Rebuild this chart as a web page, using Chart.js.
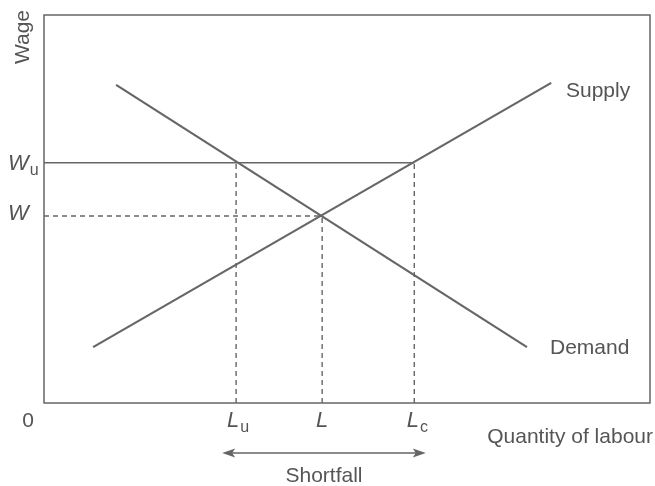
<!DOCTYPE html>
<html>
<head>
<meta charset="utf-8">
<script src="https://cdn.jsdelivr.net/npm/chart.js@4"></script>
<style>
  body { margin: 0; background: #fff; }
</style>
</head>
<body>
<canvas id="labourChart" width="655" height="486"></canvas>
<script>
// values on a 0-100 scale for both axes
const supplyX = [8.1, 83.7];
const supplyY = [14.4, 82.5];
const demandX = [11.9, 79.7];
const demandY = [82.0, 14.4];

const wageLevels = { Wu: 61.9, W: 48.2 };
const quantities = { Lu: 31.7, L: 45.9, Lc: 61.1 };
const shortfallRange = [29.4, 63.0];

const lineColor = "#666";
const textColor = "#555";
const fontFamily = "'Liberation Sans', Arial, sans-serif";

function pts(xs, ys) {
  return xs.map((x, i) => ({ x: x, y: ys[i] }));
}

const datasets = [
  { data: pts(supplyX, supplyY), borderWidth: 2.2 },
  { data: pts(demandX, demandY), borderWidth: 2.2 },
  { data: pts([0, quantities.Lc], [wageLevels.Wu, wageLevels.Wu]), borderWidth: 1.5 },
  { data: pts([0, quantities.L], [wageLevels.W, wageLevels.W]), borderWidth: 1.4, borderDash: [5, 4] },
  { data: pts([quantities.Lu, quantities.Lu], [0, wageLevels.Wu]), borderWidth: 1.4, borderDash: [5, 4] },
  { data: pts([quantities.L, quantities.L], [0, wageLevels.W]), borderWidth: 1.4, borderDash: [5, 4] },
  { data: pts([quantities.Lc, quantities.Lc], [0, wageLevels.Wu]), borderWidth: 1.4, borderDash: [5, 4] }
].map(d => Object.assign({
  showLine: true,
  borderColor: lineColor,
  pointRadius: 0,
  fill: false
}, d));

// draws the frame, labels and the shortfall arrow
const annotations = {
  id: "annotations",
  afterDraw(chart) {
    const ctx = chart.ctx;
    const x = chart.scales.x, y = chart.scales.y;
    const a = chart.chartArea;

    ctx.save();
    ctx.strokeStyle = lineColor;
    ctx.lineWidth = 1.5;
    ctx.strokeRect(a.left, a.top, a.right - a.left, a.bottom - a.top);

    ctx.fillStyle = textColor;
    ctx.textBaseline = "middle";

    function sub(main, s, cx, cy, align) {
      ctx.font = "italic 22px " + fontFamily;
      const w1 = ctx.measureText(main).width;
      ctx.font = "16px " + fontFamily;
      const w2 = s ? ctx.measureText(s).width + 1 : 0;
      let left = align === "center" ? cx - (w1 + w2) / 2 : cx;
      ctx.textAlign = "left";
      ctx.font = "italic 22px " + fontFamily;
      ctx.fillText(main, left, cy);
      if (s) {
        ctx.font = "16px " + fontFamily;
        ctx.fillText(s, left + w1 + 1, cy + 7);
      }
    }

    // y-axis labels
    sub("W", "u", 8, y.getPixelForValue(wageLevels.Wu) + 1, "left");
    sub("W", "", 8, y.getPixelForValue(wageLevels.W) - 2, "left");

    // x-axis labels
    const ly = a.bottom + 18;
    sub("L", "u", x.getPixelForValue(quantities.Lu) + 2, ly, "center");
    sub("L", "", x.getPixelForValue(quantities.L), ly, "center");
    sub("L", "c", x.getPixelForValue(quantities.Lc) + 3, ly, "center");

    ctx.font = "21px " + fontFamily;
    ctx.textAlign = "center";
    ctx.fillText("0", 28, ly);

    ctx.textAlign = "left";
    ctx.fillText("Supply", 566, 91);
    ctx.fillText("Demand", 550, 348);
    ctx.textAlign = "right";
    ctx.fillText("Quantity of labour", 653, 437);

    ctx.save();
    ctx.translate(23, 37);
    ctx.rotate(-Math.PI / 2);
    ctx.textAlign = "center";
    ctx.fillText("Wage", 0, 0);
    ctx.restore();

    // shortfall arrow
    const x0 = x.getPixelForValue(shortfallRange[0]);
    const x1 = x.getPixelForValue(shortfallRange[1]);
    const ay = 453;
    ctx.strokeStyle = lineColor;
    ctx.lineWidth = 1.5;
    ctx.beginPath();
    ctx.moveTo(x0 + 4, ay);
    ctx.lineTo(x1 - 4, ay);
    ctx.stroke();
    ctx.fillStyle = lineColor;
    ctx.beginPath();
    ctx.moveTo(x0, ay);
    ctx.lineTo(x0 + 13, ay - 4.5);
    ctx.lineTo(x0 + 10, ay);
    ctx.lineTo(x0 + 13, ay + 4.5);
    ctx.closePath();
    ctx.fill();
    ctx.beginPath();
    ctx.moveTo(x1, ay);
    ctx.lineTo(x1 - 13, ay - 4.5);
    ctx.lineTo(x1 - 10, ay);
    ctx.lineTo(x1 - 13, ay + 4.5);
    ctx.closePath();
    ctx.fill();

    ctx.fillStyle = textColor;
    ctx.textAlign = "center";
    ctx.font = "21px " + fontFamily;
    ctx.fillText("Shortfall", (x0 + x1) / 2, 476);
    ctx.restore();
  }
};

new Chart(document.getElementById("labourChart"), {
  type: "scatter",
  data: { datasets: datasets },
  options: {
    responsive: false,
    animation: false,
    layout: { padding: { left: 44, top: 15, right: 5, bottom: 83 } },
    plugins: { legend: { display: false }, tooltip: { enabled: false } },
    scales: {
      x: { type: "linear", min: 0, max: 100, display: false },
      y: { type: "linear", min: 0, max: 100, display: false }
    }
  },
  plugins: [annotations]
});
</script>
</body>
</html>
